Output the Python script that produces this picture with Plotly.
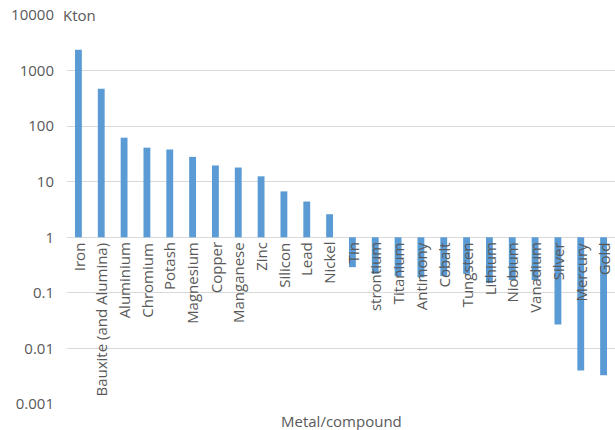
import plotly.graph_objects as go

categories = ["Iron", "Bauxite (and Alumina)", "Aluminium", "Chromium", "Potash",
              "Magnesium", "Copper", "Manganese", "Zinc", "Silicon", "Lead", "Nickel",
              "Tin", "strontium", "Titanium", "Antimony", "Cobalt", "Tungsten",
              "Lithium", "Niobium", "Vanadium", "Silver", "Mercury", "Gold"]
values = [2370, 473, 62, 41, 38, 28, 19.6, 18, 12.5, 6.7, 4.4, 2.6,
          0.29, 0.22, 0.2, 0.19, 0.2, 0.22, 0.15, 0.17, 0.17, 0.027, 0.004, 0.0033]
tick_vals = [0.001, 0.01, 0.1, 1, 10, 100, 1000, 10000]
tick_text = ["0.001", "0.01", "0.1", "1", "10", "100", "1000", "10000"]

BASE = 1
FONT = "Open Sans"
GRAY = "#595959"

fig = go.Figure()
fig.add_trace(go.Bar(
    x=categories,
    y=[v - BASE for v in values],
    base=BASE,
    marker=dict(color="#5B9BD5", line=dict(width=0)),
    width=0.3,
    hovertext=[str(v) for v in values],
))

annotations = []
for c in categories:
    annotations.append(dict(
        x=c, y=0, xref="x", yref="y", text=c, showarrow=False,
        textangle=-90, xanchor="center", yanchor="top", yshift=-3,
        font=dict(family=FONT, size=15, color=GRAY),
    ))
annotations.append(dict(
    x=0, y=4, xref="paper", yref="y", text="Kton", showarrow=False,
    xanchor="left", yanchor="middle", xshift=-6,
    font=dict(family=FONT, size=15, color=GRAY),
))
annotations.append(dict(
    x=0.5, y=0, xref="paper", yref="paper", text="Metal/compound", showarrow=False,
    xanchor="center", yanchor="top", yshift=-5,
    font=dict(family=FONT, size=15, color=GRAY),
))

fig.update_layout(
    width=615, height=430,
    margin=dict(l=67, r=0, t=15, b=26),
    paper_bgcolor="white", plot_bgcolor="white",
    showlegend=False,
    annotations=annotations,
    shapes=[dict(type="line", xref="paper", yref="y", x0=0, x1=1, y0=0, y1=0,
                 line=dict(color="black", width=1.5), layer="above")],
    font=dict(family=FONT, size=15, color=GRAY),
)
fig.update_xaxes(range=[-0.5, len(categories) - 0.5], showticklabels=False,
                 showgrid=False, zeroline=False, showline=False)
fig.update_yaxes(type="log", range=[-3, 4], tickvals=tick_vals, ticktext=tick_text,
                 showgrid=True, gridcolor="#D9D9D9", gridwidth=1.2,
                 zeroline=False, showline=False, ticklabelstandoff=12,
                 tickfont=dict(family=FONT, size=15, color=GRAY))

fig.write_html("out.html")
